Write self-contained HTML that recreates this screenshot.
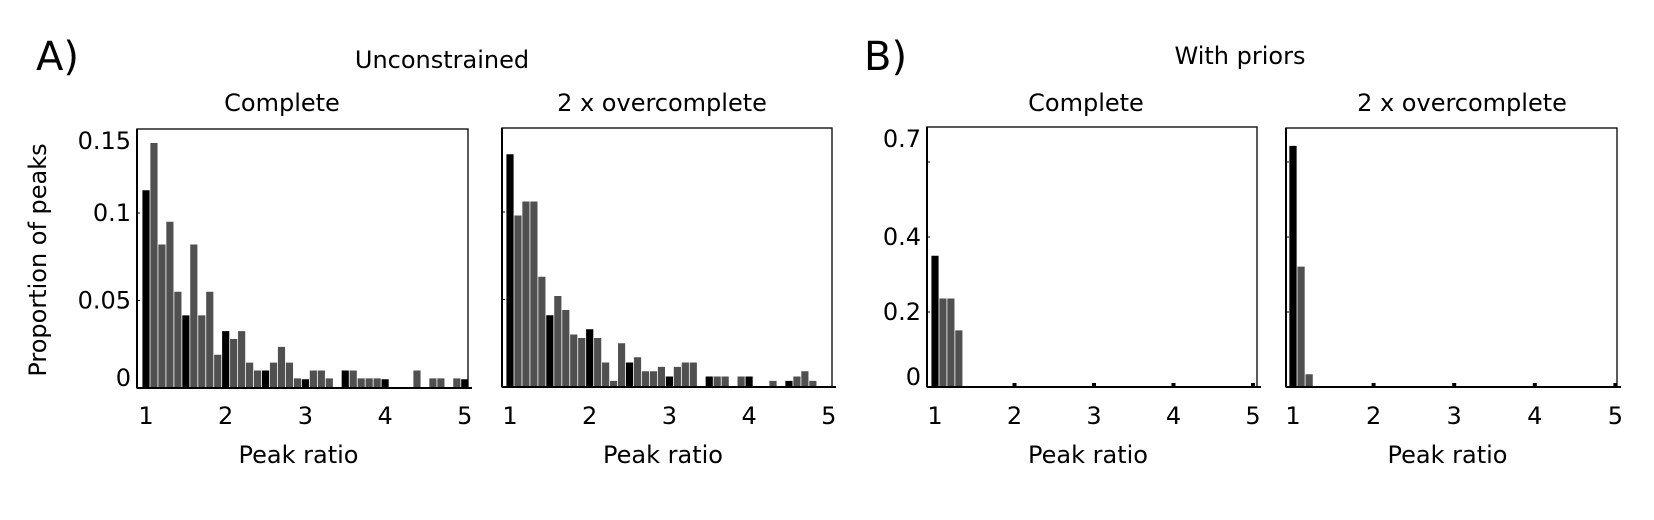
<!DOCTYPE html>
<html><head><meta charset="utf-8"><style>
html,body{margin:0;padding:0;background:#fff;}
svg{display:block;font-family:"DejaVu Sans","Liberation Sans",sans-serif;}
</style></head><body>
<svg id="fig" width="1654" height="520" viewBox="0 0 1654 520">
<text x="36" y="70" font-size="40">A)</text>
<text x="442" y="68" font-size="24" text-anchor="middle">Unconstrained</text>
<text x="864" y="70" font-size="40">B)</text>
<text x="1240" y="64" font-size="24" text-anchor="middle">With priors</text>
<text transform="translate(46,260) rotate(-90)" font-size="24" text-anchor="middle">Proportion of peaks</text>
<g id="charts"></g>
</svg>
<script>
const categories = [1.0,1.1,1.2,1.3,1.4,1.5,1.6,1.7,1.8,1.9,2.0,2.1,2.2,2.3,2.4,2.5,2.6,2.7,2.8,2.9,3.0,3.1,3.2,3.3,3.4,3.5,3.6,3.7,3.8,3.9,4.0,4.1,4.2,4.3,4.4,4.5,4.6,4.7,4.8,4.9,5.0];
const unconstrainedComplete = [0.113,0.140,0.082,0.095,0.055,0.0415,0.082,0.0415,0.055,0.019,0.0325,0.028,0.0325,0.0145,0.010,0.010,0.0145,0.0235,0.0145,0.0055,0.005,0.010,0.010,0.0055,0,0.010,0.010,0.0055,0.0055,0.0055,0.005,0,0,0,0.010,0,0.0055,0.0055,0,0.0055,0.005];
const unconstrainedOver = [0.133,0.098,0.106,0.106,0.063,0.041,0.052,0.044,0.030,0.028,0.033,0.028,0.014,0.0035,0.025,0.014,0.017,0.009,0.009,0.0115,0.006,0.0115,0.014,0.014,0,0.006,0.006,0.006,0,0.006,0.006,0,0,0.0035,0,0.0035,0.006,0.009,0.0035,0,0];
const priorsComplete = [0.35,0.236,0.236,0.151,0,0,0,0,0,0,0,0,0,0,0,0,0,0,0,0,0,0,0,0,0,0,0,0,0,0,0,0,0,0,0,0,0,0,0,0,0];
const priorsOver = [0.643,0.321,0.034,0,0,0,0,0,0,0,0,0,0,0,0,0,0,0,0,0,0,0,0,0,0,0,0,0,0,0,0,0,0,0,0,0,0,0,0,0,0];
const xTicks = [1,2,3,4,5];
const yTicksA = [0,0.05,0.1,0.15];
const yTickLabelsA = ["0","0.05","0.1","0.15"];
const yTicksB = [0,0.2,0.4,0.7];
const yTickLabelsB = ["0","0.2","0.4","0.7"];
const yMinorA = [0.05,0.1];
const yMinorB = [0.2,0.4,0.6];

const NS="http://www.w3.org/2000/svg";
const root=document.getElementById('charts');
function mk(tag,attrs,parent){const e=document.createElementNS(NS,tag);for(const k in attrs)e.setAttribute(k,attrs[k]);parent.appendChild(e);return e;}

const panels=[
 {key:'unconstrained-complete',title:'Complete',tx:282,data:unconstrainedComplete,box:[137,129,468,388],x1:146,ppx:79.7,ppy:1750,yt:yTicksA,yl:yTickLabelsA,ym:yMinorA,showY:true,xticks:false},
 {key:'unconstrained-overcomplete',title:'2 x overcomplete',tx:662,data:unconstrainedOver,box:[502,128,832,387],x1:510,ppx:79.7,ppy:1750,yt:yTicksA,yl:yTickLabelsA,ym:yMinorA,showY:false,xticks:false},
 {key:'priors-complete',title:'Complete',tx:1086,data:priorsComplete,box:[927,127,1257,387],x1:935,ppx:79.5,ppy:375,yt:yTicksB,yl:yTickLabelsB,ym:yMinorB,showY:true,xticks:true},
 {key:'priors-overcomplete',title:'2 x overcomplete',tx:1462,data:priorsOver,box:[1286,128,1617,387],x1:1293,ppx:80.6,ppy:375,yt:yTicksB,yl:yTickLabelsB,ym:yMinorB,showY:false,xticks:true}
];

panels.forEach(p=>{
 const g=mk('g',{},root);
 
 
 const [L,T,R,B]=p.box;
 const xs=v=>p.x1+(v-1)*p.ppx;
 const ys=v=>B-v*p.ppy;
 const cp=mk('clipPath',{id:'clip-'+p.key},g);
 mk('rect',{x:L,y:T,width:R-L,height:B-T},cp);
 const bars=mk('g',{'clip-path':'url(#clip-'+p.key+')'},g);
 
 
 const bw=p.ppx*0.1;
 categories.forEach((c,i)=>{
  const v=p.data[i]; if(!v) return;
  const isBlack=Math.abs(c*2-Math.round(c*2))<1e-6;
  const r=mk('rect',{x:xs(c)-bw/2+0.4,y:ys(v),width:bw-0.8,height:B-ys(v),fill:isBlack?'#000':'#505050'},bars);
  
  
 });
 const frame=mk('rect',{x:L,y:T,width:R-L,height:B-T,fill:'none',stroke:'#000','stroke-width':1.3},g);
 
 
 mk('line',{x1:L,y1:B,x2:R+4,y2:B,stroke:'#000','stroke-width':2},g);
 mk('line',{x1:L,y1:T,x2:L,y2:B,stroke:'#000','stroke-width':2},g);
 p.ym.forEach(t=>{ mk('line',{x1:L,y1:ys(t),x2:L+3,y2:ys(t),stroke:'#000','stroke-width':1},g); });
 if(p.xticks){ xTicks.forEach(t=>{ if(t>1) mk('rect',{x:xs(t)-2,y:B-4,width:4,height:4,fill:'#000'},g); }); }
 xTicks.forEach(t=>{
  const tl=mk('text',{x:xs(t),y:424,'font-size':24,'text-anchor':'middle'},g);
  tl.textContent=String(t);
  
  
 });
 if(p.showY){
  p.yt.forEach((t,i)=>{
   let y=ys(t)+8;
   if(i===0) y=B-2;
   if(i===p.yt.length-1) y=Math.max(ys(t)+8,T+20);
   const yl=mk('text',{x:L-6,y:y,'font-size':24,'text-anchor':'end'},g);
   yl.textContent=p.yl[i];
   
   
  });
 }
 const ti=mk('text',{x:p.tx,y:111,'font-size':24,'text-anchor':'middle'},g);
 ti.textContent=p.title;
 
 
 const xl=mk('text',{x:(L+R)/2-4,y:463,'font-size':24,'text-anchor':'middle'},g);
 xl.textContent='Peak ratio';
 
 
});
</script>
</body></html>
